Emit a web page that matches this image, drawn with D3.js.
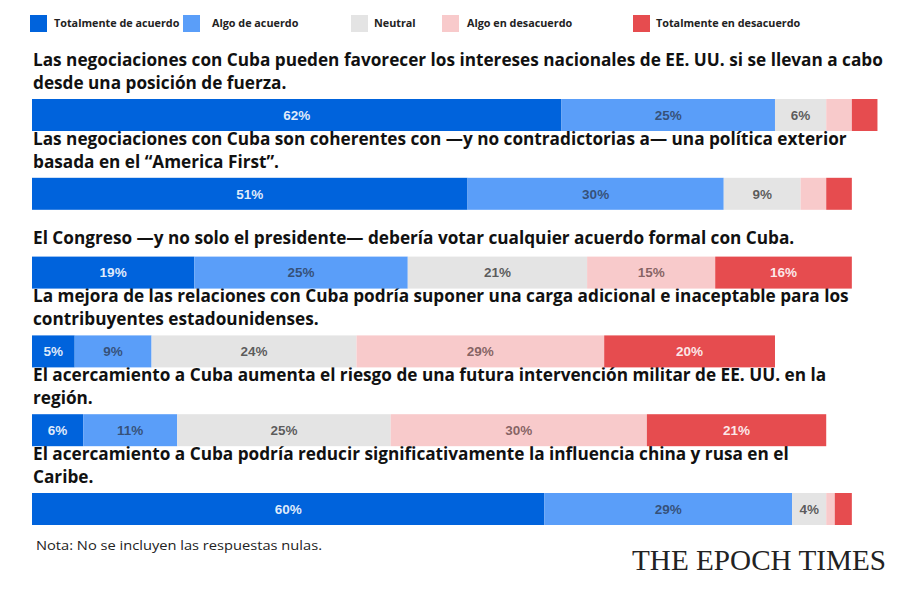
<!DOCTYPE html>
<html>
<head>
<meta charset="utf-8">
<script src="https://cdn.jsdelivr.net/npm/d3@7"></script>
<style>
  body { margin: 0; background: #fff; }
  svg { display: block; }
</style>
</head>
<body>
<div id="chart"></div>
<script>
// Categories, series and labels
const categories = ["Totalmente de acuerdo", "Algo de acuerdo", "Neutral", "Algo en desacuerdo", "Totalmente en desacuerdo"];

const questions = [
  ["Las negociaciones con Cuba pueden favorecer los intereses nacionales de EE. UU. si se llevan a cabo", "desde una posición de fuerza."],
  ["Las negociaciones con Cuba son coherentes con —y no contradictorias a— una política exterior", "basada en el “America First”."],
  ["El Congreso —y no solo el presidente— debería votar cualquier acuerdo formal con Cuba."],
  ["La mejora de las relaciones con Cuba podría suponer una carga adicional e inaceptable para los", "contribuyentes estadounidenses."],
  ["El acercamiento a Cuba aumenta el riesgo de una futura intervención militar de EE. UU. en la", "región."],
  ["El acercamiento a Cuba podría reducir significativamente la influencia china y rusa en el", "Caribe."]
];

const totalmenteAcuerdo = [62, 51, 19, 5, 6, 60];
const algoAcuerdo = [25, 30, 25, 9, 11, 29];
const neutral = [6, 9, 21, 24, 25, 4];
const algoDesacuerdo = [3, 3, 15, 29, 30, 1];
const totalmenteDesacuerdo = [3, 3, 16, 20, 21, 2];

const note = "Nota: No se incluyen las respuestas nulas.";
const brand = "THE EPOCH TIMES";

// layout
const width = 917, height = 606;
const colors = ["#0063dc", "#5a9ef9", "#e4e4e4", "#f8cacb", "#e64c4f"];
const labelColors = ["rgba(255,255,255,0.88)", "rgba(40,50,70,0.72)", "rgba(0,0,0,0.62)", "rgba(60,30,30,0.62)", "rgba(255,255,255,0.88)"];
const legendX = [30, 183, 351, 442, 633];
const legendTextX = [54, 212, 374, 467, 656];

const series = [totalmenteAcuerdo, algoAcuerdo, neutral, algoDesacuerdo, totalmenteDesacuerdo];
const rows = questions.map((q, i) => {
  const r = { index: i };
  categories.forEach((c, k) => r[c] = series[k][i]);
  return r;
});

const stacked = d3.stack().keys(categories)(rows);

const svg = d3.select("#chart").append("svg")
  .attr("width", width)
  .attr("height", height);

const x = d3.scaleLinear().domain([0, 100]).range([32, 886]);
// bars 32px tall, one every ~78.8px
const y = d3.scaleBand()
  .domain(d3.range(questions.length))
  .range([99, 525])
  .paddingInner(0.594)
  .paddingOuter(0);

// Legend
const legend = svg.append("g").attr("class", "legend");
categories.forEach((c, k) => {
  legend.append("rect")
    .attr("x", legendX[k]).attr("y", 15)
    .attr("width", 17).attr("height", 17)
    .attr("fill", colors[k]);
  legend.append("text")
    .attr("x", legendTextX[k]).attr("y", 27)
    .attr("font-family", "Open Sans")
    .attr("font-weight", 700)
    .attr("font-size", 10.8)
    .attr("fill", "#222")
    .text(c);
});

// Question titles
const titles = svg.append("g").attr("class", "titles");
questions.forEach((q, i) => {
  const top = y(i);
  const t = titles.append("text")
    .attr("font-family", "Open Sans")
    .attr("font-weight", 700)
    .attr("font-size", 17.2)
    .attr("fill", "#111");
  q.forEach((line, j) => {
    const offset = q.length === 1 ? -13 : (j === 0 ? -33 : -10);
    t.append("tspan")
      .attr("x", 33)
      .attr("y", top + offset)
      .text(line);
  });
});

// Bars
const groups = svg.append("g").attr("class", "bars")
  .selectAll("g")
  .data(stacked)
  .join("g")
  .attr("fill", (d, k) => colors[k]);

groups.selectAll("rect")
  .data(d => d)
  .join("rect")
  .attr("x", d => x(d[0]))
  .attr("y", d => y(d.data.index))
  .attr("width", d => x(d[1]) - x(d[0]))
  .attr("height", y.bandwidth());

// Segment labels (small segments have none)
stacked.forEach((s, k) => {
  svg.append("g").selectAll("text")
    .data(s.filter(d => d[1] - d[0] >= 4))
    .join("text")
    .attr("x", d => (x(d[0]) + x(d[1])) / 2)
    .attr("y", d => y(d.data.index) + y.bandwidth() / 2)
    .attr("dy", "0.36em")
    .attr("text-anchor", "middle")
    .attr("font-family", "Liberation Sans, Arial, sans-serif")
    .attr("font-weight", 700)
    .attr("font-size", 13.5)
    .attr("fill", labelColors[k])
    .text(d => (d[1] - d[0]) + "%");
});

// Note and brand
svg.append("text")
  .attr("x", 36).attr("y", 550)
  .attr("font-family", "Open Sans")
  .attr("font-size", 13)
  .attr("fill", "#222")
  .attr("textLength", 286)
  .attr("lengthAdjust", "spacingAndGlyphs")
  .text(note);

svg.append("text")
  .attr("x", 632).attr("y", 570)
  .attr("font-family", "Liberation Serif, serif")
  .attr("font-size", 29)
  .attr("fill", "#222")
  .attr("textLength", 254)
  .attr("lengthAdjust", "spacingAndGlyphs")
  .text(brand);
</script>
</body>
</html>
